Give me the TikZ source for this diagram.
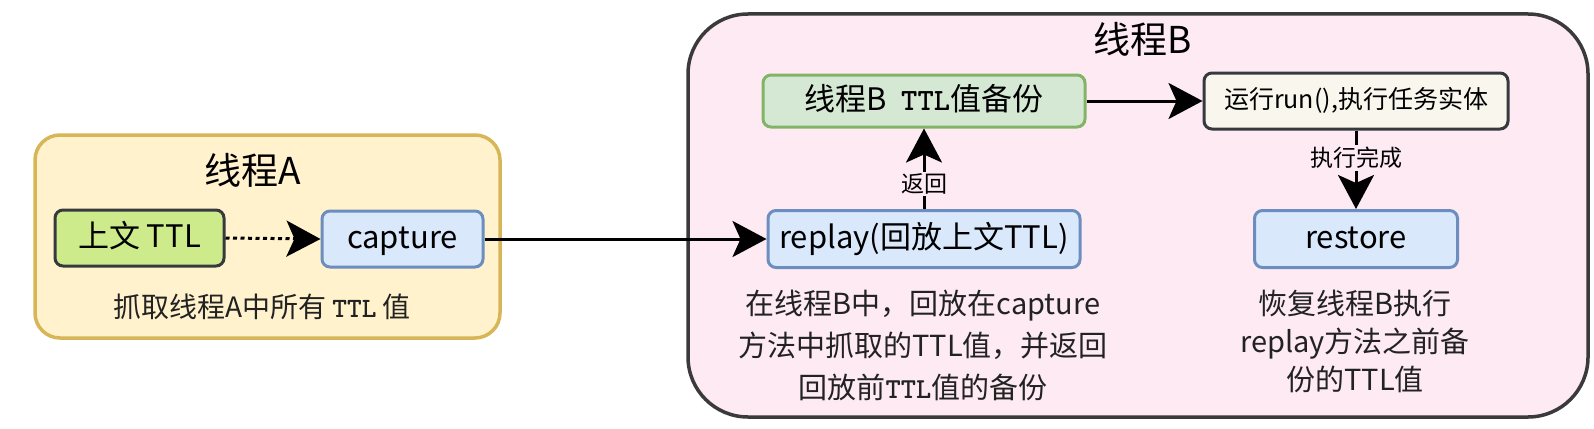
\documentclass[tikz,border=0pt]{standalone}
\usepackage{fontspec}
\setmainfont{Noto Sans CJK SC}
\usetikzlibrary{arrows.meta}
\definecolor{yfill}{HTML}{FFF2CC}
\definecolor{ydraw}{HTML}{D6B656}
\definecolor{pfill}{HTML}{FDEAF2}
\definecolor{pdraw}{HTML}{3A3A3A}
\definecolor{bfill}{HTML}{DAE8FC}
\definecolor{bdraw}{HTML}{6C8EBF}
\definecolor{gfill}{HTML}{D5E8D4}
\definecolor{gdraw}{HTML}{82B366}
\definecolor{lgfill}{HTML}{CDEB8B}
\definecolor{dk}{HTML}{36393D}
\definecolor{cfill}{HTML}{F9F7ED}
\definecolor{txt}{HTML}{222222}
\newcommand{\mono}[1]{{\ttfamily\bfseries #1}}
\begin{document}
\begin{tikzpicture}[x=1pt,y=-1pt,
  box/.style={draw, rectangle, rounded corners=8pt, line width=3pt, inner sep=0pt, text=black,
    font=\fontsize{31pt}{36pt}\selectfont, text height=25pt, text depth=6pt},
  bluebox/.style={box, draw=bdraw, fill=bfill},
  container/.style={draw, rectangle, line width=3.5pt, inner sep=0pt},
  conn/.style={line width=3pt, -{Stealth[length=34pt,width=36pt,inset=8pt]}},
  lbl/.style={fill=pfill, inner sep=2pt, text=black, font=\fontsize{23pt}{28pt}\selectfont},
  desc/.style={align=center, text=txt, inner sep=0pt},
  title/.style={text=black, font=\fontsize{37pt}{42pt}\selectfont, inner sep=0pt}
]
\useasboundingbox (0,0) rectangle (1594,428);

% containers
\node[container, draw=ydraw, fill=yfill, rounded corners=25pt, minimum width=465pt, minimum height=203pt] (threadA) at (267.5,236.5) {};
\node[container, draw=pdraw, fill=pfill, rounded corners=60pt, minimum width=900pt, minimum height=403pt] (threadB) at (1138,215.5) {};

% titles
\node[title] (titleA) at (253,170) {线程A};
\node[title] (titleB) at (1143,39) {线程B};

% thread A
\node[box, draw=dk, fill=lgfill, minimum width=169pt, minimum height=56pt] (ctx) at (139.5,238) {上文 TTL};
\node[bluebox, minimum width=161pt, minimum height=56pt] (capture) at (402.5,239) {capture};
\node[desc, font=\fontsize{28pt}{32pt}\selectfont] (descA) at (262,307) {抓取线程A中所有 \mono{TTL} 值};

% thread B
\node[box, draw=gdraw, fill=gfill, minimum width=322pt, minimum height=52pt] (backup) at (924,101) {线程B\ \ \mono{TTL}值备份};
\node[box, draw=dk, fill=cfill, minimum width=304pt, minimum height=56pt,
      font=\fontsize{25pt}{28pt}\selectfont, text height=20pt, text depth=5pt] (run) at (1356,101) {运行run(),执行任务实体};
\node[bluebox, minimum width=312pt, minimum height=57pt] (replay) at (924,239) {replay(回放上文TTL)};
\node[bluebox, minimum width=203pt, minimum height=57pt] (restore) at (1356,239) {restore};

\node[desc, font=\fontsize{29pt}{42pt}\selectfont] (descReplay) at (923,345)
  {在线程B中，回放在capture\\方法中抓取的TTL值，并返回\\回放前\mono{TTL}值的备份};
\node[desc, font=\fontsize{29pt}{38pt}\selectfont] (descRestore) at (1355,341)
  {恢复线程B执行\\replay方法之前备\\份的TTL值};

% connectors
\draw[conn, dash pattern=on 4pt off 3.5pt] (ctx.east) -- (capture.west);
\draw[conn] (capture.east) -- (replay.west);
\draw[conn] (replay.north) -- node[lbl, pos=0.31] (lblBack) {返回} (backup.south);
\draw[conn] (backup.east) -- (run.west);
\draw[conn] (run.south) -- node[lbl, pos=0.35] (lblDone) {执行完成} (restore.north);
\end{tikzpicture}
\end{document}
